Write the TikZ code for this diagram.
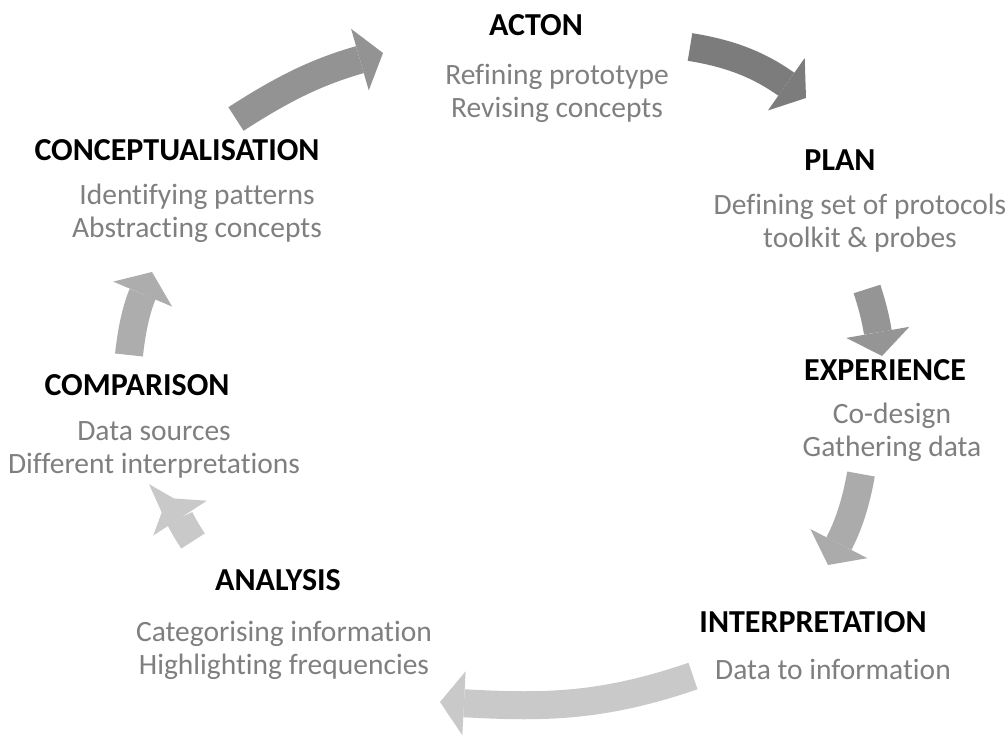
\documentclass[tikz,border=0pt]{standalone}
\usepackage{fontspec}
\setmainfont{Carlito}[Ligatures=NoCommon]
\usetikzlibrary{arrows.meta, positioning}
\definecolor{cycleText}{HTML}{7F7F7F}
\definecolor{cycleA}{HTML}{939393}
\definecolor{cycleB}{HTML}{7C7C7C}
\definecolor{cycleC}{HTML}{959595}
\definecolor{cycleD}{HTML}{ABABAB}
\definecolor{cycleE}{HTML}{C9C9C9}
\definecolor{cycleF}{HTML}{ADADAD}

\begin{document}
\begin{tikzpicture}[
    x=1pt, y=-1pt,
    stage/.style={inner sep=0pt, font=\fontsize{32}{38}\selectfont\bfseries},
    note/.style={inner sep=0pt, align=center, text=cycleText,
                 font=\fontsize{29.5}{33}\selectfont},
    bend/.style={line width=28pt, draw=#1,
                 -{Triangle[length=24pt, width=64pt, line width=0pt]}},
  ]
    \useasboundingbox (0,0) rectangle (1008,738);

    % stage titles
    \node[stage] (acton) at (536,25) {ACTON};
    \node[stage] (plan) at (840,160) {PLAN};
    \node[stage] (exper) at (885,370) {EXPERIENCE};
    \node[stage] (interp) at (813,622) {INTERPRETATION};
    \node[stage] (analys) at (278,580) {ANALYSIS};
    \node[stage] (compar) at (137,385) {COMPARISON};
    \node[stage] (concept) at (177,150) {CONCEPTUALISATION};

    % what happens in each stage
    \node[note] (actonN) at (557,93) {Refining prototype\\Revising concepts};
    \node[note] (planN) at (860,223) {Defining set of protocols\\toolkit \& probes};
    \node[note] (experN) at (892,432) {Co-design\\Gathering data};
    \node[note] (interpN) at (833,669) {Data to information};
    \node[note] (analysN) at (284,650) {Categorising information\\Highlighting frequencies};
    \node[note] (comparN) at (154,450) {Data sources\\Different interpretations};
    \node[note] (conceptN) at (197,213) {Identifying patterns\\Abstracting concepts};

    % arrow ends
    \coordinate (a1s) at (236,119);  \coordinate (a1e) at (383,53);
    \coordinate (a2s) at (690,47);   \coordinate (a2e) at (806,98);
    \coordinate (a3s) at (867,289);  \coordinate (a3e) at (882,356);
    \coordinate (a4s) at (861,474);  \coordinate (a4e) at (828,565);
    \coordinate (a5s) at (693,676);  \coordinate (a5e) at (440,702);
    \coordinate (a6s) at (193,541);  \coordinate (a6e) at (167,498);
    \coordinate (a7s) at (129,355);  \coordinate (a7e) at (152,272);

    \draw[bend=cycleA] (a1s) to[out=33, in=196] (a1e);
    \draw[bend=cycleB] (a2s) to[out=-9, in=145] (a2e);
    \draw[bend=cycleC] (a3s) to[out=-72, in=100] (a3e);
    \draw[bend=cycleD] (a4s) to[out=-100, in=63] (a4e);
    \draw[bend=cycleE] (a5s) to[out=-161, in=-3] (a5e);
    \draw[bend=cycleE] (a6s) to[out=123, in=-57] (a6e);
    \draw[bend=cycleF] (a7s) to[out=84, in=247] (a7e);
  \end{tikzpicture}
\end{document}
